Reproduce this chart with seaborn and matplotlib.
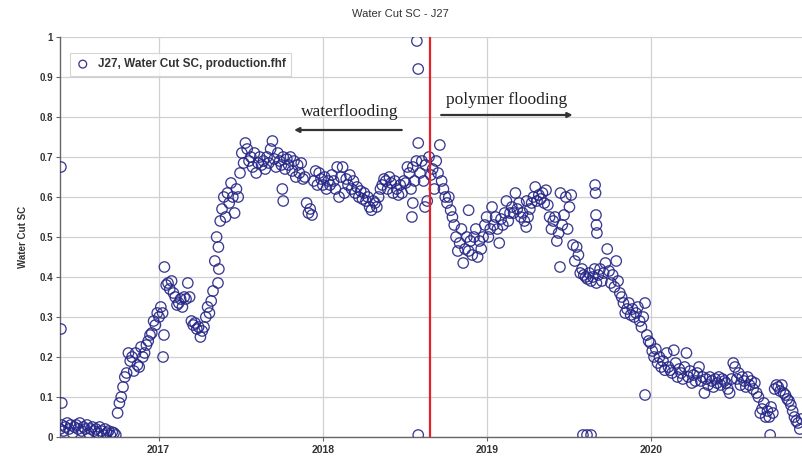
import matplotlib
matplotlib.use("Agg")
import matplotlib.pyplot as plt
import matplotlib.dates as mdates
import numpy as np
import pandas as pd
import seaborn as sns

# Water cut samples every 4 days starting 2016-05-27
start_date = "2016-05-27"
step = "4D"
water_cut = [
    0.02, 0.03, 0.015, 0.025, 0.035, 0.02, 0.03, 0.01, 0.025, 0.03,
    0.02, 0.035, 0.015, 0.025, 0.02, 0.03, 0.01, 0.02, 0.025, 0.015,
    0.02, 0.01, 0.025, 0.015, 0.005, 0.02, 0.01, 0.015, 0.005, 0.012,
    0.01, 0.005, 0.06, 0.085, 0.10, 0.125, 0.15, 0.16, 0.21, 0.19,
    0.20, 0.165, 0.21, 0.18, 0.175, 0.225, 0.20, 0.21, 0.23, 0.24,
    0.255, 0.26, 0.29, 0.28, 0.31, 0.30, 0.325, 0.31, 0.425, 0.38,
    0.385, 0.37, 0.39, 0.36, 0.35, 0.33, 0.335, 0.345, 0.325, 0.35,
    0.345, 0.385, 0.35, 0.29, 0.28, 0.285, 0.27, 0.275, 0.25, 0.265,
    0.275, 0.30, 0.325, 0.31, 0.34, 0.365, 0.44, 0.50, 0.475, 0.54,
    0.57, 0.60, 0.55, 0.61, 0.585, 0.635, 0.60, 0.56, 0.62, 0.60,
    0.66, 0.71, 0.685, 0.735, 0.72, 0.69, 0.70, 0.675, 0.71, 0.66,
    0.685, 0.70, 0.68, 0.69, 0.67, 0.70, 0.685, 0.72, 0.74, 0.695,
    0.675, 0.71, 0.69, 0.68, 0.70, 0.67, 0.695, 0.68, 0.70, 0.665,
    0.69, 0.65, 0.68, 0.66, 0.685, 0.645, 0.65, 0.585, 0.56, 0.57,
    0.555, 0.64, 0.665, 0.63, 0.66, 0.645, 0.63, 0.65, 0.62, 0.64,
    0.63, 0.655, 0.64, 0.62, 0.675, 0.60, 0.65, 0.675, 0.61, 0.645,
    0.63, 0.655, 0.62, 0.64, 0.61, 0.625, 0.60, 0.615, 0.595, 0.61,
    0.59, 0.60, 0.575, 0.567, 0.59, 0.585, 0.575, 0.60, 0.62, 0.63,
    0.645, 0.64, 0.62, 0.65, 0.635, 0.61, 0.64, 0.62, 0.605, 0.63,
    0.61, 0.64, 0.635, 0.675, 0.66, 0.62, 0.675, 0.64, 0.69, 0.735,
    0.66, 0.69, 0.64, 0.68, 0.59, 0.70, 0.655, 0.67, 0.62, 0.69,
    0.66, 0.73, 0.64, 0.62, 0.60, 0.585, 0.60, 0.567, 0.55, 0.53,
    0.50, 0.465, 0.485, 0.52, 0.435, 0.47, 0.50, 0.465, 0.49, 0.455,
    0.50, 0.52, 0.45, 0.49, 0.47, 0.50, 0.53, 0.55, 0.50, 0.52,
    0.575, 0.53, 0.55, 0.52, 0.485, 0.545, 0.53, 0.56, 0.59, 0.54,
    0.56, 0.575, 0.56, 0.61, 0.57, 0.585, 0.55, 0.56, 0.54, 0.525,
    0.55, 0.57, 0.585, 0.60, 0.625, 0.59, 0.605, 0.595, 0.61, 0.585,
    0.617, 0.58, 0.55, 0.52, 0.54, 0.55, 0.49, 0.51, 0.61, 0.53,
    0.555, 0.60, 0.52, 0.575, 0.605, 0.48, 0.44, 0.475, 0.455, 0.41,
    0.42, 0.405, 0.40, 0.395, 0.41, 0.39, 0.40, 0.42, 0.385, 0.405,
    0.42, 0.39, 0.41, 0.435, 0.47, 0.415, 0.385, 0.405, 0.375, 0.44,
    0.39, 0.36, 0.35, 0.335, 0.31, 0.32, 0.335, 0.305, 0.32, 0.30,
    0.31, 0.325, 0.29, 0.275, 0.30, 0.335, 0.255, 0.24, 0.235, 0.215,
    0.20, 0.22, 0.185, 0.20, 0.175, 0.19, 0.167, 0.21, 0.175, 0.167,
    0.16, 0.217, 0.185, 0.15, 0.17, 0.16, 0.145, 0.175, 0.21, 0.15,
    0.165, 0.135, 0.155, 0.14, 0.16, 0.175, 0.14, 0.15, 0.11, 0.145,
    0.13, 0.15, 0.14, 0.125, 0.145, 0.135, 0.15, 0.13, 0.145, 0.14,
    0.135, 0.12, 0.11, 0.145, 0.185, 0.175, 0.145, 0.16, 0.13, 0.15,
    0.14, 0.125, 0.15, 0.13, 0.14, 0.12, 0.135, 0.11, 0.10, 0.06,
    0.07, 0.085, 0.05, 0.065, 0.05, 0.075, 0.06, 0.12, 0.13, 0.125,
    0.115, 0.13, 0.11, 0.105, 0.095, 0.09, 0.08, 0.065, 0.05, 0.04,
    0.035, 0.02, 0.045,
]

# Isolated readings (spikes and dropouts)
spike_dates = [
    "2016-05-29", "2016-05-29", "2016-05-31", "2017-01-11", "2017-01-13",
    "2017-05-13", "2017-05-15", "2017-10-03", "2017-10-05", "2018-07-18",
    "2018-07-20", "2018-07-29", "2018-08-01", "2018-08-01", "2018-08-16",
    "2018-11-21", "2019-03-30", "2019-06-12", "2019-08-29", "2019-08-30",
    "2019-08-31", "2019-09-01", "2019-09-02", "2019-08-02", "2019-08-11",
    "2019-08-20", "2019-12-18", "2020-09-21",
]
spike_values = [
    0.675, 0.27, 0.085, 0.20, 0.255,
    0.385, 0.42, 0.62, 0.59, 0.55,
    0.585, 0.99, 0.92, 0.005, 0.575,
    0.567, 0.59, 0.425, 0.63, 0.61,
    0.555, 0.53, 0.51, 0.005, 0.005,
    0.005, 0.105, 0.005,
]

polymer_start = "2018-08-27"
x_start, x_end = "2016-05-27", "2020-12-03"
y_ticks = [0, 0.1, 0.2, 0.3, 0.4, 0.5, 0.6, 0.7, 0.8, 0.9, 1]
y_tick_labels = ["0", "0.1", "0.2", "0.3", "0.4", "0.5", "0.6", "0.7", "0.8", "0.9", "1"]

dates = list(pd.date_range(start_date, periods=len(water_cut), freq=step)) + list(pd.to_datetime(spike_dates))
df = pd.DataFrame({"date": dates, "wc": list(water_cut) + list(spike_values)}).sort_values("date")

sns.set_theme(style="white")
plt.rcParams["font.family"] = ["Liberation Sans", "DejaVu Sans"]

fig = plt.figure(figsize=(8.03, 4.58), dpi=100)
ax = fig.add_axes([60 / 803, 1 - 437 / 458, 743 / 803, 400 / 458])

navy = "#262688"
sns.scatterplot(data=df, x="date", y="wc", ax=ax, marker="o", s=56,
                facecolors="none", edgecolor=navy, linewidth=0.95, alpha=0.9,
                label="J27, Water Cut SC, production.fhf", zorder=3)

ax.set_xlim(pd.Timestamp(x_start), pd.Timestamp(x_end))
ax.set_ylim(0, 1)
ax.set_yticks(y_ticks)
ax.set_yticklabels(y_tick_labels)
ax.xaxis.set_major_locator(mdates.YearLocator())
ax.xaxis.set_major_formatter(mdates.DateFormatter("%Y"))

ax.grid(True, color="#d0d0d0", linewidth=0.9)
ax.set_axisbelow(True)
for side in ("top", "right"):
    ax.spines[side].set_visible(False)
for side in ("left", "bottom"):
    ax.spines[side].set_color("#666666")
    ax.spines[side].set_linewidth(1.0)

ax.tick_params(axis="y", which="major", length=3, width=0.8, color="#666666",
               labelsize=7, labelcolor="#333333", pad=2, left=True)
ax.tick_params(axis="x", which="major", length=3, width=0.8, color="#666666",
               labelsize=7.5, labelcolor="#333333", pad=3, bottom=True)
for lab in ax.get_xticklabels() + ax.get_yticklabels():
    lab.set_fontweight("bold")

ax.set_xlabel("")
ax.set_ylabel("Water Cut SC", fontsize=7, fontweight="bold", color="#333333", labelpad=8)

fig.text(400 / 803, 1 - 14 / 458, "Water Cut SC - J27", ha="center", va="center",
         fontsize=8, color="#333333")

# Start of polymer injection
ax.axvline(pd.Timestamp(polymer_start), color="#e8202a", linewidth=1.6, zorder=4)

serif = ["Liberation Serif", "DejaVu Serif"]
ax.text(0.39, 0.8125, "waterflooding", transform=ax.transAxes, ha="center", va="center",
        fontsize=12.5, family=serif, color="#222222")
ax.annotate("", xy=(0.315, 0.7675), xytext=(0.460, 0.7675), xycoords="axes fraction",
            textcoords="axes fraction",
            arrowprops=dict(arrowstyle="-|>", color="#333333", lw=1.6, mutation_scale=7,
                            shrinkA=0, shrinkB=0))
ax.text(0.6016, 0.8425, "polymer flooding", transform=ax.transAxes, ha="center", va="center",
        fontsize=12.5, family=serif, color="#222222")
ax.annotate("", xy=(0.690, 0.805), xytext=(0.513, 0.805), xycoords="axes fraction",
            textcoords="axes fraction",
            arrowprops=dict(arrowstyle="-|>", color="#333333", lw=1.6, mutation_scale=7,
                            shrinkA=0, shrinkB=0))

leg = ax.legend(loc="upper left", bbox_to_anchor=(0.006, 0.975), frameon=True,
                fancybox=False, prop={"size": 8.5, "weight": "bold"}, handletextpad=0.7,
                borderpad=0.45, markerscale=0.75, handlelength=1.2)
leg.get_frame().set_edgecolor("#cccccc")
leg.get_frame().set_linewidth(0.8)
for t in leg.get_texts():
    t.set_color("#333333")

fig.savefig("out.png", dpi=100)
